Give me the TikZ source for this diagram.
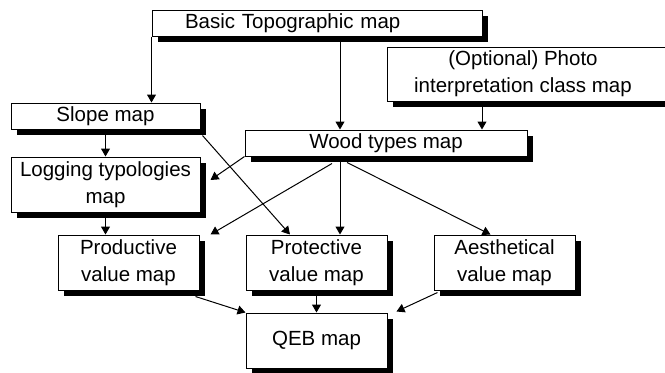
\documentclass[tikz,border=0pt]{standalone}
\usepackage{fontspec}
\setmainfont{Liberation Sans}
\usetikzlibrary{positioning}
\usetikzlibrary{arrows.meta, shadows}

\begin{document}
\begin{tikzpicture}[x=0.5pt, y=-0.5pt,
    map/.style={draw, fill=white, line width=0.5pt, inner sep=0pt, align=center,
        font=\fontsize{10.25}{13.5}\selectfont,
        drop shadow={shadow xshift=3pt, shadow yshift=-3pt, fill=black, opacity=1}},
    flow/.style={line width=0.5pt, -{Triangle[length=4pt,width=4.5pt]}}]
                \useasboundingbox (0,0) rectangle (665,372);
                % the maps
                \node[map, text width=132pt, align=left, inner xsep=16.5pt, minimum height=13pt] (basic) at (317,23) {Basic Topographic map};
                \node[map, minimum width=94.5pt, minimum height=13pt] (slope) at (105.5,116) {Slope map};
                \node[map, minimum width=146pt, minimum height=27pt] (photo) at (533,74) {\hspace*{-10pt}(Optional) Photo\\\hspace*{-10pt}interpretation class map};
                \node[map, minimum width=141pt, minimum height=13pt] (wood) at (386,143) {Wood types map};
                \node[map, minimum width=94.5pt, minimum height=27.5pt] (logging) at (105.5,184.5) {Logging typologies\\map};
                \node[map, minimum width=70.5pt, minimum height=27.5pt] (productive) at (128.5,262.5) {Productive\\value map};
                \node[map, minimum width=70.5pt, minimum height=27.5pt] (protective) at (316.5,262.5) {Protective\\value map};
                \node[map, minimum width=70.5pt, minimum height=27.5pt] (aesthetical) at (504.5,262.5) {Aesthetical\\value map};
                \node[map, minimum width=70.5pt, minimum height=27.5pt] (qeb) at (316.5,340.5) {QEB map};
                % the flows
                \draw[flow] (basic.south west) -- (basic.south west |- slope.north);
                \draw[flow] ([xshift=11.5pt]basic.south) -- ([xshift=11.5pt]basic.south |- wood.north);
                \draw[flow] ([xshift=-25.5pt]photo.south) -- ([xshift=-25.5pt]photo.south |- wood.north);
                \draw[flow] (slope.south) -- (logging.north);
                \draw[flow] (logging.south) -- (logging.south |- productive.north);
                \draw[flow] ([xshift=-23pt]wood.south) -- ([xshift=-23pt]wood.south |- protective.north);
                \draw[flow] (protective.south) -- (qeb.north);
                \draw[flow] ([xshift=1pt,yshift=-3pt]slope.south east) -- ([xshift=-13.25pt]protective.north);
                \draw[flow] (wood.south west) -- ([xshift=5pt,yshift=2.25pt]logging.east);
                \draw[flow] ([xshift=-27pt,yshift=-3.5pt]wood.south) -- ([xshift=5.5pt]productive.north east);
                \draw[flow] ([xshift=-19.5pt,yshift=-3pt]wood.south) -- ([xshift=-7pt]aesthetical.north);
                \draw[flow] ([xshift=-2pt,yshift=-3pt]productive.south east) -- (qeb.north west);
                \draw[flow] ([xshift=2pt,yshift=-1pt]aesthetical.south west) -- ([xshift=4.5pt,yshift=0.5pt]qeb.north east);
\end{tikzpicture}
\end{document}
